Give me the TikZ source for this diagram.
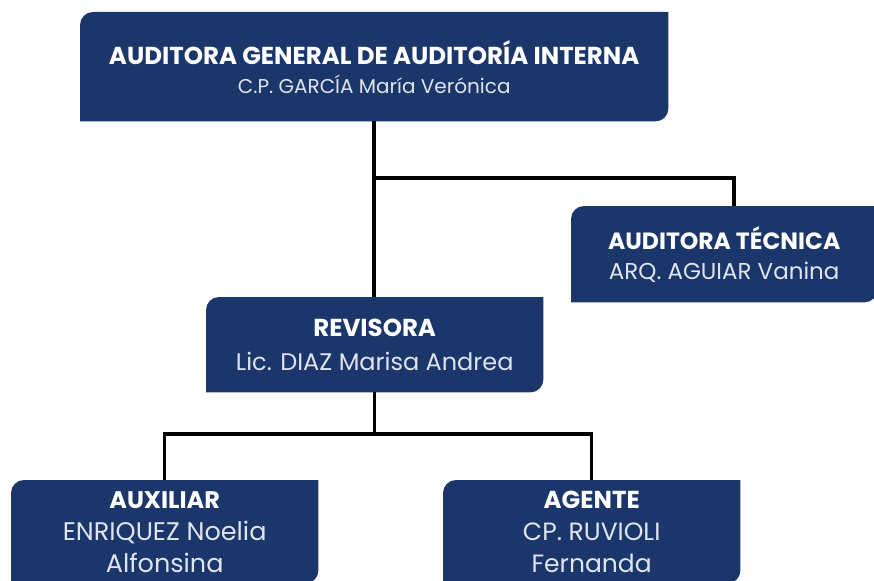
\documentclass[tikz,border=0pt]{standalone}
\usepackage{fontspec}
\setmainfont{Poppins}
\usetikzlibrary{backgrounds}
\definecolor{azul}{RGB}{27,54,107}
\definecolor{gris}{RGB}{224,228,236}
\newcommand{\cargo}[1]{{\bfseries\color{white}#1}}

\begin{document}
\begin{tikzpicture}[x=1pt,y=-1pt]
        \tikzstyle{hoja} = [rectangle, inner sep=0pt, text=gris, align=center, anchor=north west, font=\fontsize{25.5}{32}\selectfont]
        \tikzstyle{linea} = [draw=black, line width=3.5pt]
        \useasboundingbox (0,0) rectangle (874,580);
        \clip (0,0) rectangle (874,580);
        \node[hoja, minimum width=588pt, minimum height=109pt, font=\fontsize{20}{29}\selectfont] (general) at (80,12) {\cargo{\fontsize{24.5}{29}\selectfont AUDITORA GENERAL DE AUDITORÍA INTERNA}\\C.P. GARCÍA María Verónica};
        \node[hoja, minimum width=306pt, minimum height=96pt, font=\fontsize{23}{30}\selectfont] (tecnica) at (571,206) {\cargo{\fontsize{23.5}{30}\selectfont AUDITORA TÉCNICA}\\ARQ. AGUIAR Vanina};
        \node[hoja, minimum width=337pt, minimum height=95pt, font=\fontsize{24}{34}\selectfont] (revisora) at (206,297) {\cargo{\fontsize{24.5}{34}\selectfont REVISORA}\\Lic. DIAZ Marisa Andrea};
        \node[hoja, minimum width=307pt, minimum height=103pt] (auxiliar) at (11,480) {\cargo{\fontsize{24}{32}\selectfont AUXILIAR}\\ENRIQUEZ Noelia\\Alfonsina};
        \node[hoja, minimum width=297pt, minimum height=103pt, font=\fontsize{25}{32}\selectfont] (agente) at (443,480) {\cargo{\fontsize{24.5}{32}\selectfont AGENTE}\\CP. RUVIOLI\\Fernanda};
        \coordinate (codo1) at (374,178);
        \coordinate (baja1) at (734,206);
        \coordinate (codo2) at (374,434);
        \begin{pgfonlayer}{background}
        \foreach \n in {general,tecnica,revisora,auxiliar,agente}
          \fill[azul] (\n.south west) -- ([yshift=-13pt]\n.north west) arc[start angle=180,end angle=90,radius=13pt] -- (\n.north east) -- ([yshift=13pt]\n.south east) arc[start angle=0,end angle=-90,radius=13pt] -- cycle;
        \draw[linea] (general.south) -- (general.south |- revisora.north);
        \draw[linea] (codo1) -| (baja1);
        \draw[linea] (revisora.south |- codo2) -- (revisora.south);
        \draw[linea] (auxiliar.north) |- (codo2) -| (agente.north);
        \end{pgfonlayer}
\end{tikzpicture}
\end{document}
